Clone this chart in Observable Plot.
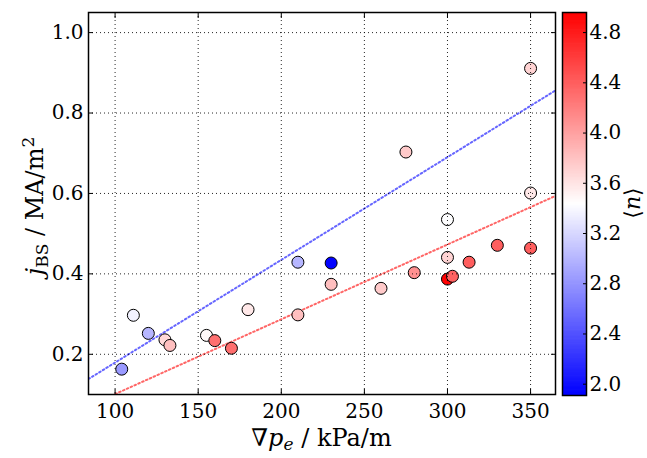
<!DOCTYPE html>
<html>
<head>
<meta charset="utf-8">
<script src="https://cdn.jsdelivr.net/npm/d3@7"></script>
<script src="https://cdn.jsdelivr.net/npm/@observablehq/plot@0.6"></script>
<style>
  html, body { margin: 0; padding: 0; background: white; }
  #wrap { position: relative; width: 647px; height: 458px; overflow: hidden; background: white; }
  #wrap > div, #wrap > svg { position: absolute; top: 0; }
</style>
</head>
<body>
<div id="wrap"></div>
<script>
// ---- data ----
const gradPe = [104, 111, 120, 130, 133, 155, 160, 170, 180, 210, 210, 230, 230, 260, 275, 280, 300, 300, 300, 303, 313, 330, 350, 350, 350];
const jBS    = [0.163, 0.297, 0.252, 0.236, 0.222, 0.247, 0.234, 0.215, 0.311, 0.298, 0.429, 0.427, 0.374, 0.364, 0.703, 0.403, 0.535, 0.441, 0.387, 0.394, 0.429, 0.471, 0.911, 0.601, 0.464];
const nMean  = [2.83, 3.36, 3.00, 3.66, 3.82, 3.47, 4.29, 4.30, 3.57, 3.82, 3.00, 1.93, 3.82, 3.75, 3.75, 4.10, 3.43, 3.70, 4.95, 4.38, 4.40, 4.40, 3.70, 3.57, 4.40];

const fitNames      = ["low", "high"];
const fitSlopes     = [0.002554, 0.00186];
const fitIntercepts = [-0.076, -0.085];
const fitColors     = ["#6666ff", "#ff6666"];

const xTicks  = [100, 150, 200, 250, 300, 350];
const yTicks  = [0.2, 0.4, 0.6, 0.8, 1.0];
const cbTicks = [2.0, 2.4, 2.8, 3.2, 3.6, 4.0, 4.4, 4.8];

const xDomain = [84, 365];
const yDomain = [0.1, 1.05];
const cDomain = [1.91, 4.96];

// ---- derived tables ----
const points = gradPe.map((x, i) => ({x, y: jBS[i], n: nMean[i]}));
const fitLines = fitNames.map((name, i) =>
  xDomain.map(x => ({name, x, y: fitSlopes[i] * x + fitIntercepts[i]})));

const colorScale = {
  type: "linear",
  domain: [cDomain[0], (cDomain[0] + cDomain[1]) / 2, cDomain[1]],
  range: ["#0000ff", "#ffffff", "#ff0000"],
  interpolate: "rgb"
};

const font = "'DejaVu Serif', serif";
const gridStyle = {stroke: "black", strokeOpacity: 0.85, strokeWidth: 1, strokeDasharray: "1,3"};

const main = Plot.plot({
  width: 560, height: 458,
  marginLeft: 88, marginRight: 5, marginTop: 12, marginBottom: 64,
  style: {fontFamily: font, fontSize: "20px", background: "white", color: "black", overflow: "visible"},
  x: {domain: xDomain},
  y: {domain: yDomain},
  color: colorScale,
  marks: [
    ...fitLines.map((pts, i) => Plot.line(pts, {x: "x", y: "y", stroke: fitColors[i], strokeWidth: 2, strokeDasharray: "1.6,2.6", clip: true})),
    Plot.dot(points, {x: "x", y: "y", fill: "n", stroke: "black", strokeWidth: 1, r: 6}),
    Plot.gridX({ticks: xTicks, ...gridStyle}),
    Plot.gridY({ticks: yTicks, ...gridStyle}),
    Plot.axisX({ticks: xTicks, anchor: "bottom", tickSize: 5, dy: -5, fill: "none", label: null, strokeWidth: 1}),
    Plot.axisX({ticks: xTicks, anchor: "top", tickSize: 5, dy: 5, fill: "none", label: null, strokeWidth: 1}),
    Plot.axisX({ticks: xTicks, anchor: "bottom", tickSize: 0, tickPadding: 9, label: null, fontSize: 20}),
    Plot.axisY({ticks: yTicks, anchor: "left", tickSize: 5, dx: 5, fill: "none", label: null, strokeWidth: 1}),
    Plot.axisY({ticks: yTicks, anchor: "right", tickSize: 5, dx: -5, fill: "none", label: null, strokeWidth: 1}),
    Plot.axisY({ticks: yTicks, anchor: "left", tickSize: 0, tickPadding: 5, label: null, tickFormat: d3.format(".1f"), fontSize: 20}),
    Plot.frame({stroke: "black", strokeWidth: 1.5})
  ]
});
main.style.left = "0px";
document.getElementById("wrap").appendChild(main);

// axis titles with sub/superscripts
const ms = d3.select(main.tagName.toLowerCase() === "svg" ? main : main.querySelector("svg"));
const yl = ms.append("text").attr("transform", "translate(43,206) rotate(-90)")
  .attr("text-anchor", "middle").attr("font-family", font).attr("font-size", 24).attr("fill", "black");
yl.append("tspan").attr("font-style", "italic").text("j");
yl.append("tspan").attr("font-size", 17).attr("dy", 5).text("BS");
yl.append("tspan").attr("dy", -5).text(" / MA/m");
yl.append("tspan").attr("font-size", 17).attr("dy", -9).text("2");

const xl = ms.append("text").attr("x", 321.5).attr("y", 446)
  .attr("text-anchor", "middle").attr("font-family", font).attr("font-size", 24).attr("fill", "black");
xl.append("tspan").text("∇");
xl.append("tspan").attr("font-style", "italic").text("p");
xl.append("tspan").attr("font-style", "italic").attr("font-size", 17).attr("dy", 4).text("e");
xl.append("tspan").attr("dy", -4).text(" / kPa/m");

// ---- colour bar ----
const nStripes = 300;
const step = (cDomain[1] - cDomain[0]) / nStripes;
const stripes = d3.range(nStripes).map(i => cDomain[0] + i * step);
const cbar = Plot.plot({
  width: 107, height: 458,
  marginLeft: 22, marginRight: 61, marginTop: 12, marginBottom: 63,
  style: {fontFamily: font, fontSize: "20px", background: "transparent", color: "black", overflow: "visible"},
  x: {domain: [0, 1], axis: null},
  y: {domain: cDomain},
  color: colorScale,
  marks: [
    Plot.rect(stripes, {x1: 0, x2: 1, y1: d => d, y2: d => Math.min(d + step * 1.6, cDomain[1]), fill: d => d + step / 2, inset: 0}),
    Plot.axisY({ticks: cbTicks, anchor: "right", tickSize: 4, dx: -4, fill: "none", label: null, strokeWidth: 1}),
    Plot.axisY({ticks: cbTicks, anchor: "right", tickSize: 0, tickPadding: 3, label: null, tickFormat: d3.format(".1f"), fontSize: 20}),
    Plot.frame({stroke: "black", strokeWidth: 1.5})
  ]
});
cbar.style.left = "540px";
document.getElementById("wrap").appendChild(cbar);
const cs = d3.select(cbar.tagName.toLowerCase() === "svg" ? cbar : cbar.querySelector("svg"));
const cl = cs.append("text").attr("transform", "translate(100,203) rotate(-90)")
  .attr("text-anchor", "middle").attr("font-family", font).attr("font-size", 22).attr("fill", "black");
cl.append("tspan").text("⟨");
cl.append("tspan").attr("font-style", "italic").text("n");
cl.append("tspan").text("⟩");
</script>
</body>
</html>
